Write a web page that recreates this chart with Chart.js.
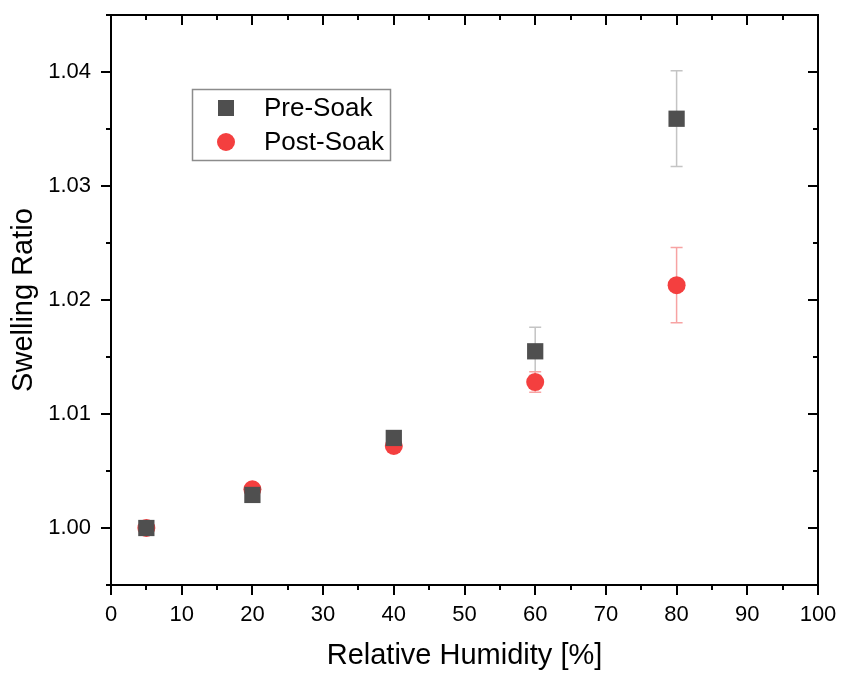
<!DOCTYPE html>
<html>
<head>
<meta charset="utf-8">
<script src="https://cdn.jsdelivr.net/npm/chart.js@4.4.1/dist/chart.umd.min.js"></script>
<style>
  body { margin: 0; background: #fff; }
  #wrap { width: 842px; height: 673px; }
</style>
</head>
<body>
<div id="wrap"><canvas id="myChart" width="842" height="673"></canvas></div>
<script>
// humidity values (x) and swelling ratios
const humidity = [5, 20, 40, 60, 80]
const preSoak = [1.0000, 1.0029, 1.0079, 1.0155, 1.0359]
const preSoakErr = [0.0001, 0.0002, 0.0006, 0.0021, 0.0042]
const postSoak = [1.0000, 1.0034, 1.0072, 1.0128, 1.0213]
const postSoakErr = [0.0001, 0.0003, 0.0003, 0.0009, 0.0033]

const xTicks = [0, 10, 20, 30, 40, 50, 60, 70, 80, 90, 100]
const yTicks = [1.00, 1.01, 1.02, 1.03, 1.04]

const FONT = "'Liberation Sans', Arial, sans-serif"

function toPoints(xs, ys) {
  return xs.map(function (x, i) { return {x: x, y: ys[i]} })
}

// kill the extra room chart.js keeps for edge labels
function noPad(s) {
  s.paddingLeft = 0; s.paddingRight = 0; s.paddingTop = 0; s.paddingBottom = 0
}

// error bars, drawn under the markers
const errorBars = {
  id: 'errorBars',
  beforeDatasetsDraw(chart) {
    const ctx = chart.ctx
    const xs = chart.scales.x, ys = chart.scales.y
    chart.data.datasets.forEach(function (ds) {
      ctx.save()
      ctx.strokeStyle = ds.errColor
      ctx.lineWidth = 1.5
      ds.data.forEach(function (p, i) {
        const px = xs.getPixelForValue(p.x)
        const top = ys.getPixelForValue(p.y + ds.err[i])
        const bot = ys.getPixelForValue(p.y - ds.err[i])
        ctx.beginPath()
        ctx.moveTo(px, top); ctx.lineTo(px, bot)
        ctx.moveTo(px - 6, top); ctx.lineTo(px + 6, top)
        ctx.moveTo(px - 6, bot); ctx.lineTo(px + 6, bot)
        ctx.stroke()
      })
      ctx.restore()
    })
  }
}

// box round the plot and the tick marks (out on left/bottom, in on top/right)
const frame = {
  id: 'frame',
  afterDraw(chart) {
    const ctx = chart.ctx
    const a = chart.chartArea
    const xs = chart.scales.x, ys = chart.scales.y
    ctx.save()
    ctx.strokeStyle = '#000'
    ctx.lineWidth = 2
    ctx.strokeRect(a.left, a.top, a.right - a.left, a.bottom - a.top)
    ctx.beginPath()
    for (let v = xs.min; v <= xs.max; v += 5) {
      const px = Math.round(xs.getPixelForValue(v))
      const len = (v % 10 === 0) ? 10 : 5
      ctx.moveTo(px, a.bottom); ctx.lineTo(px, a.bottom + len)
      ctx.moveTo(px, a.top); ctx.lineTo(px, a.top + len)
    }
    for (let k = 0; k <= 10; k++) {
      const v = 0.995 + k * 0.005
      const py = Math.round(ys.getPixelForValue(v))
      const len = (k % 2 === 1) ? 10 : 5
      ctx.moveTo(a.left, py); ctx.lineTo(a.left - len, py)
      ctx.moveTo(a.right, py); ctx.lineTo(a.right - len, py)
    }
    ctx.stroke()
    ctx.restore()
  }
}

// legend box inside the plot
const legendBox = {
  id: 'legendBox',
  afterDraw(chart) {
    const ctx = chart.ctx
    ctx.save()
    ctx.strokeStyle = '#8c8c8c'
    ctx.lineWidth = 1.5
    ctx.strokeRect(192.5, 89.5, 198, 71)
    ctx.font = '26px ' + FONT
    ctx.fillStyle = '#000'
    ctx.textBaseline = 'middle'
    chart.data.datasets.forEach(function (ds, i) {
      const cy = 108 + i * 34
      ctx.fillStyle = ds.backgroundColor
      if (ds.pointStyle === 'rect') {
        ctx.fillRect(218, cy - 8, 16, 16)
      } else {
        ctx.beginPath()
        ctx.arc(226, cy, 9, 0, Math.PI * 2)
        ctx.fill()
      }
      ctx.fillStyle = '#000'
      ctx.fillText(ds.label, 264, cy + 1)
    })
    ctx.restore()
  }
}

const ctx = document.getElementById('myChart').getContext('2d')
const chart = new Chart(ctx, {
  type: 'scatter',
  data: {
    datasets: [{
      label: 'Pre-Soak',
      data: toPoints(humidity, preSoak),
      err: preSoakErr,
      errColor: '#c4c4c4',
      pointStyle: 'rect',
      pointRadius: 11.5,
      backgroundColor: '#4f4f4f',
      borderColor: '#4f4f4f',
      borderWidth: 0
    }, {
      label: 'Post-Soak',
      data: toPoints(humidity, postSoak),
      err: postSoakErr,
      errColor: '#f7a3a3',
      pointStyle: 'circle',
      pointRadius: 9,
      backgroundColor: '#f43f3f',
      borderColor: '#f43f3f',
      borderWidth: 0
    }]
  },
  options: {
    responsive: false,
    animation: false,
    events: [],
    layout: { padding: { top: 15, right: 24, left: 0, bottom: 0 } },
    plugins: { legend: { display: false }, tooltip: { enabled: false } },
    scales: {
      x: {
        type: 'linear',
        min: 0, max: 100,
        afterFit: function (s) { s.height = 88; noPad(s) },
        afterBuildTicks: function (s) { s.ticks = xTicks.map(function (v) { return {value: v} }) },
        grid: { display: false, drawTicks: false },
        border: { display: false },
        ticks: { color: '#000', padding: 17, font: { family: FONT, size: 22 } },
        title: { display: true, text: 'Relative Humidity [%]', color: '#000',
                 padding: { top: 0, bottom: 0 }, font: { family: FONT, size: 29 } }
      },
      y: {
        type: 'linear',
        min: 0.995, max: 1.045,
        afterFit: function (s) { s.width = 111; noPad(s) },
        afterBuildTicks: function (s) { s.ticks = yTicks.map(function (v) { return {value: v} }) },
        grid: { display: false, drawTicks: false },
        border: { display: false },
        ticks: { color: '#000', padding: 20, font: { family: FONT, size: 22 },
                 callback: function (v) { return v.toFixed(2) } },
        title: { display: true, text: 'Swelling Ratio', color: '#000',
                 padding: { top: 7, bottom: 0 }, font: { family: FONT, size: 29 } }
      }
    }
  },
  plugins: [errorBars, frame, legendBox]
})
</script>
</body>
</html>
